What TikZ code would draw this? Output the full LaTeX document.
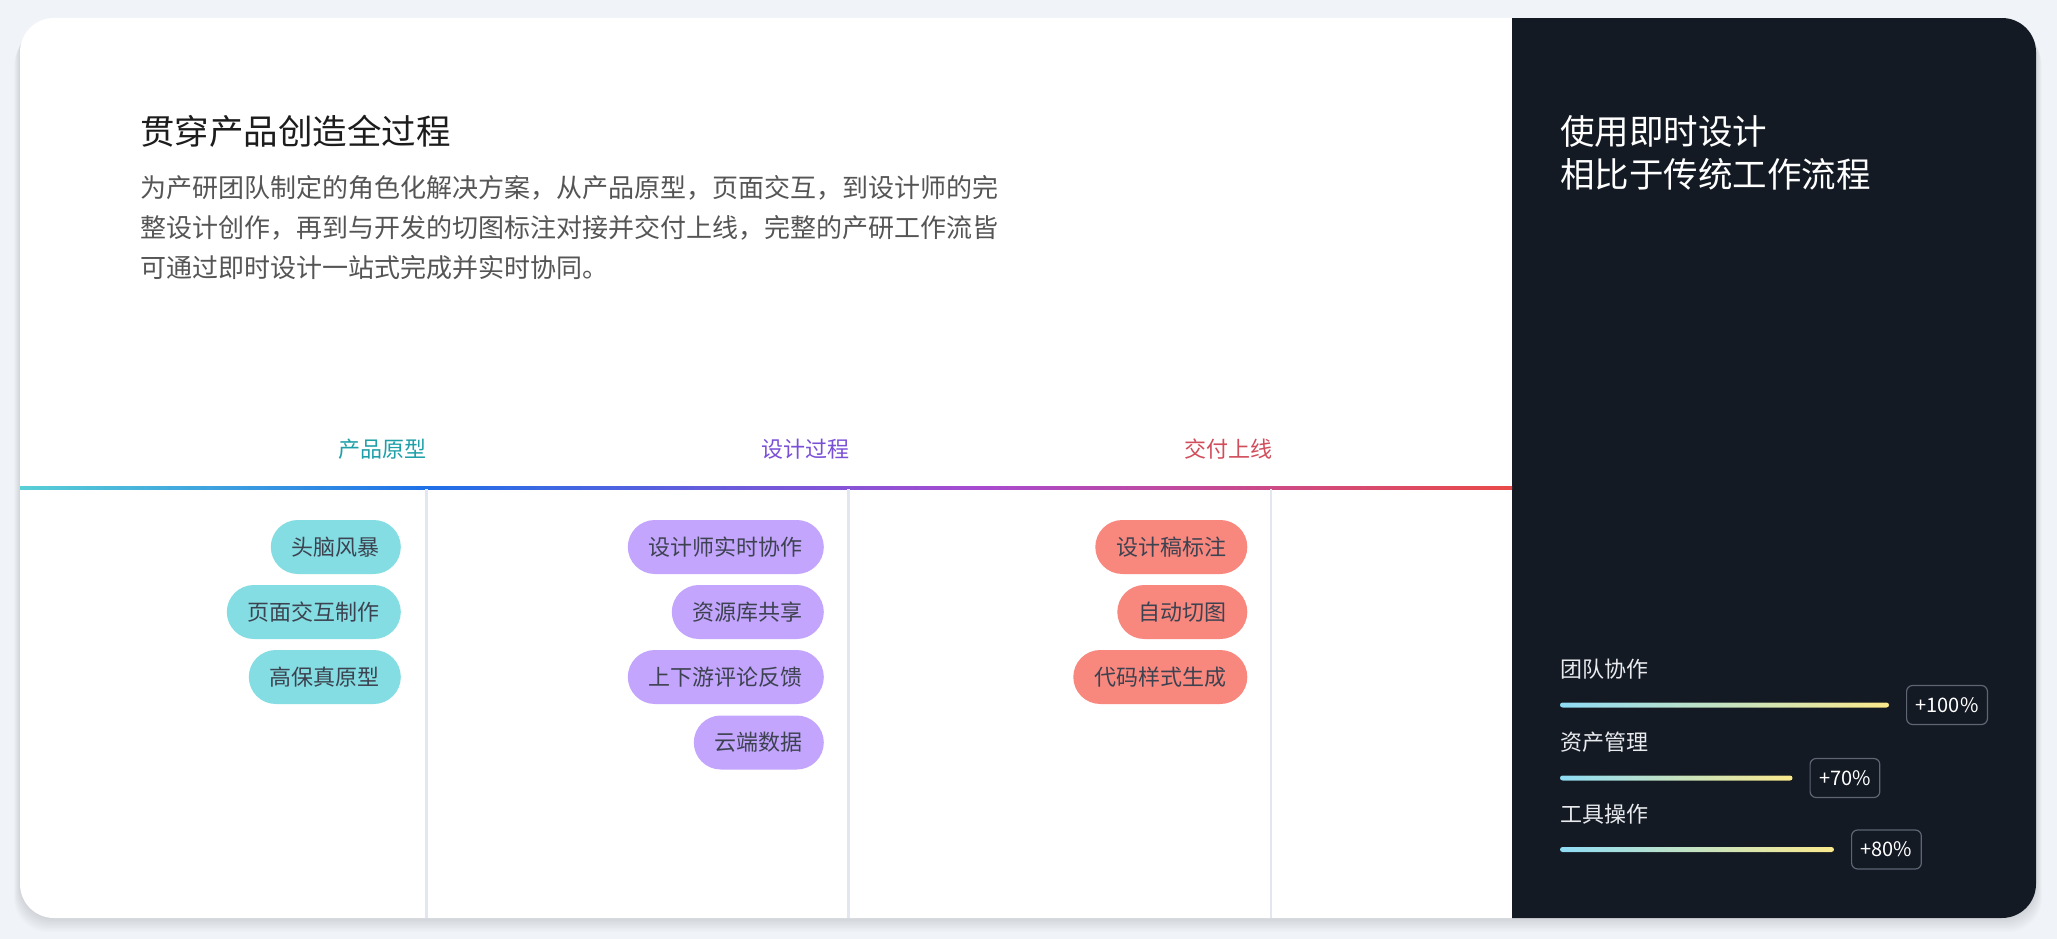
\documentclass[tikz,border=0pt]{standalone}
\usepackage{fontspec}
\setmainfont{Noto Sans CJK SC}
\definecolor{bg}{HTML}{F0F3F8}
\definecolor{darkpanel}{HTML}{131A24}
\definecolor{titlecol}{HTML}{1C1C1C}
\definecolor{paracol}{HTML}{555555}
\definecolor{tabteal}{HTML}{1F9FA8}
\definecolor{tabpurple}{HTML}{7A4FD8}
\definecolor{tabred}{HTML}{D14D5B}
\definecolor{gA}{HTML}{58CFD6}
\definecolor{gB}{HTML}{1F6FE8}
\definecolor{gC}{HTML}{A84AD0}
\definecolor{gD}{HTML}{EA4A48}
\definecolor{sepcol}{HTML}{E1E6EF}
\definecolor{chipteal}{HTML}{84DDE2}
\definecolor{chippurple}{HTML}{C3A5FD}
\definecolor{chipred}{HTML}{F8877E}
\definecolor{chiptext}{HTML}{3D4250}
\definecolor{barl}{HTML}{8FDCF5}
\definecolor{barr}{HTML}{FBE98C}
\definecolor{badgeborder}{HTML}{5E6573}
\definecolor{labelcol}{HTML}{E8EAEE}
\tikzset{
  bigtitle/.style={inner sep=0pt, text height=30.4pt, text depth=4.1pt, anchor=west, font=\fontsize{34.5}{40}\selectfont},
  paraline/.style={inner sep=0pt, text height=22.9pt, text depth=3.1pt, anchor=west, text=paracol, font=\fontsize{26}{30}\selectfont},
  tabtitle/.style={inner sep=0pt, text height=19.4pt, text depth=2.6pt, font=\fontsize{22}{26}\selectfont},
  chip/.style={rectangle, rounded corners=27pt, minimum height=54pt, inner xsep=21pt, inner ysep=0pt,
    text height=19.4pt, text depth=2.6pt, text=chiptext, anchor=east,
    font=\fontsize{22}{26}\selectfont},
  sepline/.style={draw=sepcol, line width=2.5pt},
  barlabel/.style={inner sep=0pt, text height=19.4pt, text depth=2.6pt, anchor=west, text=labelcol, font=\fontsize{22}{26}\selectfont},
  badge/.style={draw=badgeborder, line width=1.2pt, rounded corners=6pt, minimum height=39pt,
    inner xsep=9pt, inner ysep=0pt, text height=14.4pt, text depth=0pt, text=white, anchor=west,
    font=\fontsize{20}{24}\selectfont},
}
\begin{document}
\begin{tikzpicture}[x=1pt,y=-1pt]
\useasboundingbox (0,0) rectangle (2057,939);
\fill[bg] (0,0) rectangle (2057,939);
% card shadow
\foreach \i in {1,...,10}
  \fill[black, opacity=0.012, rounded corners=34pt] (20-0.6*\i,18+1.4*\i) rectangle (2036+0.6*\i,918+1.4*\i);
% card
\fill[white, rounded corners=34pt] (20,18) rectangle (2036,918);
\begin{scope}
  \clip[rounded corners=34pt] (20,18) rectangle (2036,918);
  \fill[darkpanel] (1512,18) rectangle (2040,920);
\end{scope}

% left header
\node[bigtitle, text=titlecol] (title) at (140,131) {贯穿产品创造全过程};
\node[paraline] (p1) at (140,188) {为产研团队制定的角色化解决方案，从产品原型，页面交互，到设计师的完};
\node[paraline] (p2) at (140,227.5) {整设计创作，再到与开发的切图标注对接并交付上线，完整的产研工作流皆};
\node[paraline] (p3) at (140,267.5) {可通过即时设计一站式完成并实时协同。};

% tabs
\node[tabtitle, text=tabteal] (tab1) at (382,449) {产品原型};
\node[tabtitle, text=tabpurple] (tab2) at (805.5,449) {设计过程};
\node[tabtitle, text=tabred] (tab3) at (1228,449) {交付上线};

% gradient line
\fill[left color=gA, right color=gB] (20,486) rectangle (430.5,489);
\fill[left color=gB, right color=gC] (430,486) rectangle (980.5,489);
\fill[left color=gC, right color=gD] (980,486) rectangle (1512,489);

% separators
\draw[sepline] (426.5,489) -- (426.5,918);
\draw[sepline] (848.5,489) -- (848.5,918);
\draw[sepline] (1271,489) -- (1271,918);

% column 1 chips
\node[chip, fill=chipteal] (c11) at (401,547) {头脑风暴};
\node[chip, fill=chipteal] (c12) at (401,612) {页面交互制作};
\node[chip, fill=chipteal] (c13) at (401,677) {高保真原型};
% column 2 chips
\node[chip, fill=chippurple] (c21) at (824,547) {设计师实时协作};
\node[chip, fill=chippurple] (c22) at (824,612) {资源库共享};
\node[chip, fill=chippurple] (c23) at (824,677) {上下游评论反馈};
\node[chip, fill=chippurple] (c24) at (824,742.5) {云端数据};
% column 3 chips
\node[chip, fill=chipred] (c31) at (1247.5,547) {设计稿标注};
\node[chip, fill=chipred] (c32) at (1247.5,612) {自动切图};
\node[chip, fill=chipred] (c33) at (1247.5,677) {代码样式生成};

% right panel
\node[bigtitle, text=white] (rt1) at (1560,131) {使用即时设计};
\node[bigtitle, text=white] (rt2) at (1560,174.5) {相比于传统工作流程};

\node[barlabel] (l1) at (1560,669.5) {团队协作};
\node[barlabel] (l2) at (1560,742.5) {资产管理};
\node[barlabel] (l3) at (1560,814.5) {工具操作};

\fill[left color=barl, right color=barr, rounded corners=2.5pt] (1560,702.5) rectangle (1889,707.5);
\fill[left color=barl, right color=barr, rounded corners=2.5pt] (1560,775.5) rectangle (1792.5,780.5);
\fill[left color=barl, right color=barr, rounded corners=2.5pt] (1560,847) rectangle (1834,852);
\coordinate (e1) at (1889,705);
\coordinate (e2) at (1792.5,778);
\coordinate (e3) at (1834,849.5);
\node[badge] (b1) at ([xshift=17pt]e1) {+100\%};
\node[badge] (b2) at ([xshift=17pt]e2) {+70\%};
\node[badge] (b3) at ([xshift=17pt]e3) {+80\%};
\end{tikzpicture}
\end{document}
